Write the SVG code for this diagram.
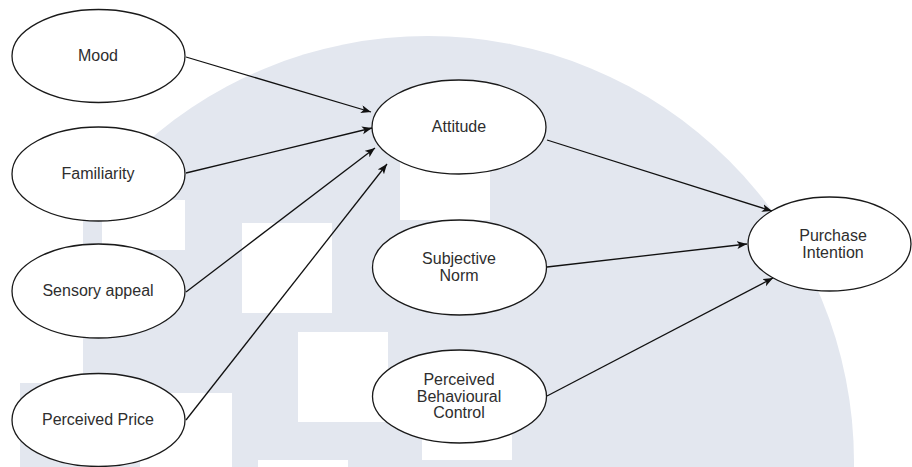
<svg xmlns="http://www.w3.org/2000/svg" width="912" height="467" viewBox="0 0 912 467">
  <style>
    .wm { fill: #e3e7ef; }
    .hole { fill: #ffffff; }
    .node { fill: #ffffff; stroke: #1a1a1a; stroke-width: 1.3; }
    .lbl { font-family: "Liberation Sans", Arial, sans-serif; font-size: 16px; fill: #2e2e2e; text-anchor: middle; }
    .edge { fill: none; stroke: #111111; stroke-width: 1.3; }
  </style>
  <defs>
    <marker id="arrow" markerUnits="userSpaceOnUse" markerWidth="11" markerHeight="9" refX="10" refY="4" orient="auto">
      <path d="M0,0 L10,4 L0,8 L2.5,4 Z" fill="#111111"/>
    </marker>
  </defs>
  <rect width="912" height="467" fill="#ffffff"/>
  <g id="watermark">
    <circle class="wm" cx="428" cy="462" r="426"/>
    <rect class="hole" x="0" y="200" width="83" height="183"/>
    <rect class="hole" x="0" y="383" width="20" height="84"/>
    <rect class="hole" x="102" y="200" width="83" height="50"/>
    <rect class="hole" x="140" y="393" width="92" height="74"/>
    <rect class="hole" x="242" y="223" width="90" height="90"/>
    <rect class="hole" x="298" y="332" width="90" height="90"/>
    <rect class="hole" x="400" y="130" width="90" height="90"/>
    <rect class="hole" x="422" y="370" width="90" height="90"/>
    <rect class="hole" x="258" y="460" width="90" height="7"/>
  </g>
  <g id="node-mood">
    <ellipse class="node" cx="98.5" cy="56" rx="86.5" ry="46.5"/>
    <text class="lbl" x="98" y="61">Mood</text>
  </g>
  <g id="node-familiarity">
    <ellipse class="node" cx="98.5" cy="174" rx="86.5" ry="47"/>
    <text class="lbl" x="98" y="179">Familiarity</text>
  </g>
  <g id="node-sensory">
    <ellipse class="node" cx="98.5" cy="291" rx="86.5" ry="47"/>
    <text class="lbl" x="98" y="296">Sensory appeal</text>
  </g>
  <g id="node-price">
    <ellipse class="node" cx="98.5" cy="420" rx="86.5" ry="46.5"/>
    <text class="lbl" x="98" y="425">Perceived Price</text>
  </g>
  <g id="node-attitude">
    <ellipse class="node" cx="459" cy="127" rx="87" ry="47"/>
    <text class="lbl" x="459" y="132">Attitude</text>
  </g>
  <g id="node-subjective-norm">
    <ellipse class="node" cx="459.5" cy="267.5" rx="87" ry="47.5"/>
    <text class="lbl" x="459" y="264">Subjective</text>
    <text class="lbl" x="459" y="281">Norm</text>
  </g>
  <g id="node-pbc">
    <ellipse class="node" cx="459.5" cy="396.5" rx="87" ry="46.5"/>
    <text class="lbl" x="459" y="385">Perceived</text>
    <text class="lbl" x="459" y="402">Behavioural</text>
    <text class="lbl" x="459" y="418">Control</text>
  </g>
  <g id="node-purchase-intention">
    <ellipse class="node" cx="829.5" cy="244" rx="81.5" ry="47"/>
    <text class="lbl" x="833" y="241">Purchase</text>
    <text class="lbl" x="833" y="258">Intention</text>
  </g>
  <g id="connectors">
    <line class="edge" x1="186" y1="57" x2="371" y2="112" marker-end="url(#arrow)"/>
    <line class="edge" x1="186" y1="173" x2="372" y2="128" marker-end="url(#arrow)"/>
    <line class="edge" x1="186" y1="292" x2="375" y2="148" marker-end="url(#arrow)"/>
    <line class="edge" x1="186" y1="420" x2="387" y2="164" marker-end="url(#arrow)"/>
    <line class="edge" x1="547" y1="140" x2="772" y2="211" marker-end="url(#arrow)"/>
    <line class="edge" x1="547" y1="267" x2="747" y2="244" marker-end="url(#arrow)"/>
    <line class="edge" x1="547" y1="396" x2="773" y2="278" marker-end="url(#arrow)"/>
  </g>
</svg>
